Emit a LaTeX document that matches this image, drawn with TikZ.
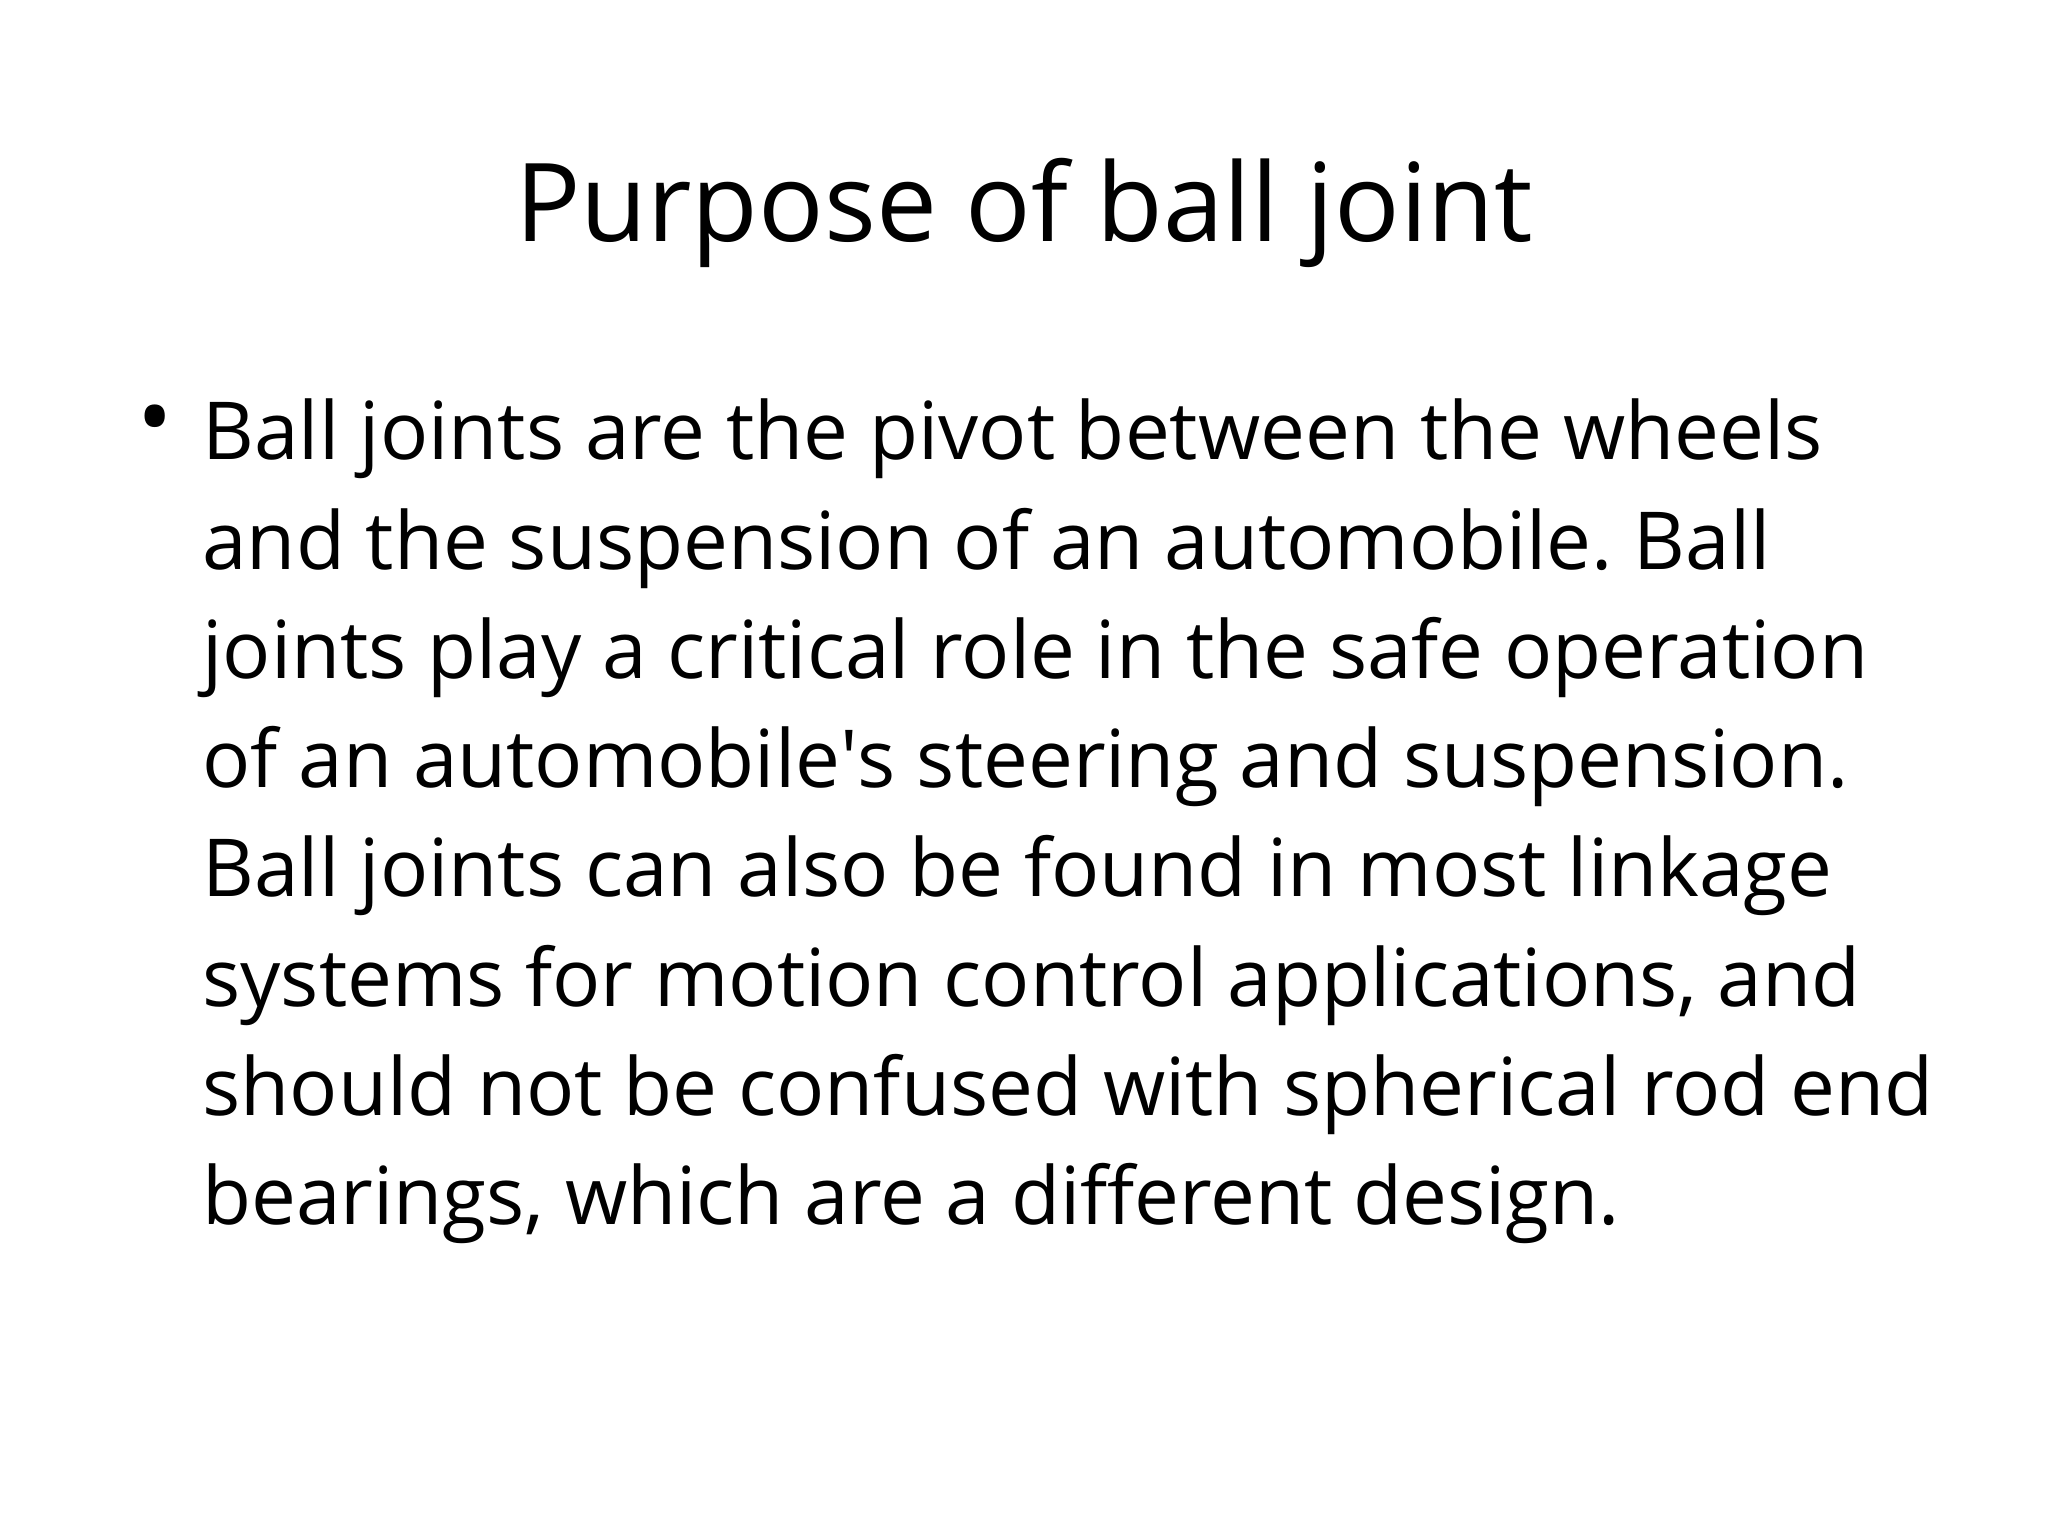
\documentclass[tikz,border=0pt]{standalone}
\usepackage{fontspec}
\setmainfont[Ligatures=NoCommon]{Open Sans}
\frenchspacing
\begin{document}
\begin{tikzpicture}[x=1pt,y=1pt,
  body/.style={anchor=base west,inner sep=0pt,font=\fontsize{37.5}{44}\selectfont}]
\useasboundingbox[fill=white] (0,0) rectangle (960,-720);
\node[anchor=base,inner sep=0pt,font=\fontsize{51}{60}\selectfont] (title) at (480,-113.4) {Purpose of ball joint};
\node[anchor=base,inner sep=0pt,font=\fontsize{44}{50}\selectfont] (bul) at (72.5,-211) {•};
\foreach \t [count=\i] in {
 Ball joints are the pivot between the wheels,
 and the suspension of an automobile. Ball,
 joints play a critical role in the safe operation,
 of an automobile\textquotesingle s steering and suspension.,
 Ball joints can also be found in most linkage,
 {systems for motion control applications, and},
 should not be confused with spherical rod end,
 {bearings, which are a different design.}}
 \node[body] (l\i) at (94.7,{-215.6-51.2*(\i-1)}) {\frenchspacing\t};
\end{tikzpicture}
\end{document}
